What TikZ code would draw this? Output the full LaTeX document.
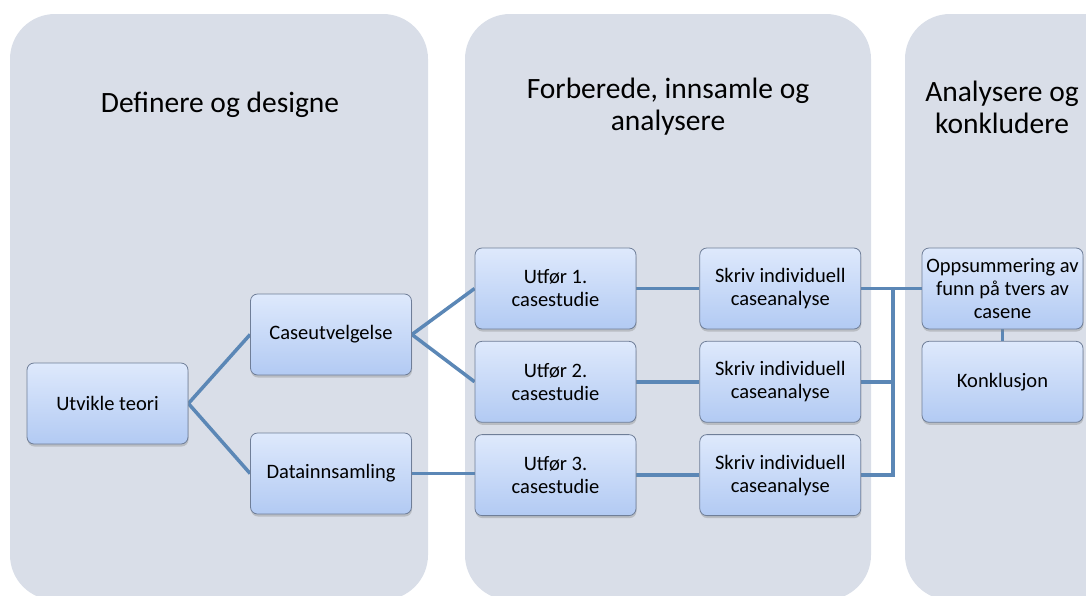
\documentclass[tikz,border=0pt]{standalone}
\usepackage{fontspec}
\setmainfont{Carlito}
\usetikzlibrary{positioning,shadows,backgrounds}
\definecolor{panelfill}{HTML}{D9DEE8}
\definecolor{boxtop}{HTML}{DEE9FC}
\definecolor{boxbot}{HTML}{B2CAF3}
\definecolor{boxline}{HTML}{6F7E98}
\definecolor{linkblue}{HTML}{5B87B6}

\begin{document}
\begin{tikzpicture}[
  x=1pt, y=-1pt,
  panel/.style={fill=panelfill, rounded corners=45pt},
  title/.style={font=\fontsize{29.5}{32}\selectfont, align=center},
  box/.style={draw=boxline, line width=0.8pt, rounded corners=7pt, top color=boxtop, bottom color=boxbot,
    minimum width=161pt, minimum height=81pt, inner sep=2pt, align=center, font=\fontsize{20.5}{23}\selectfont,
    drop shadow={shadow xshift=0.5pt, shadow yshift=-2.5pt, opacity=0.35}},
  wire/.style={draw=linkblue, line width=3.5pt},
]
\useasboundingbox (0,0) rectangle (1086,595);
\begin{scope}[on background layer]
  \clip (0,0) rectangle (1086,595);
  \fill[panel] (10,14) rectangle (428,600);
  \fill[panel] (465,14) rectangle (871,600);
  \fill[panel] (905,14) rectangle (1140,600);
\end{scope}

% phase titles
\node[title] (def) at (220,105) {Definere og designe};
\node[title] (forb) at (668,107) {Forberede, innsamle og\\analysere};
\node[title] (konk) at (1002,107) {Analysere og\\konkludere};

% boxes
\node[box] (teori) at (107.5,403.5) {Utvikle teori};
\node[box] (utvalg) at (331,334.5) {Caseutvelgelse};
\node[box] (data) at (331,473.5) {Datainnsamling};
\node[box] (utf1) at (555.5,288.5) {Utfør 1.\\casestudie};
\node[box, below=11.5pt of utf1] (utf2) {Utfør 2.\\casestudie};
\node[box, below=11.5pt of utf2] (utf3) {Utfør 3.\\casestudie};
\node[box, right=63pt of utf1] (skr1) {Skriv individuell\\caseanalyse};
\node[box, right=63pt of utf2] (skr2) {Skriv individuell\\caseanalyse};
\node[box, right=63pt of utf3] (skr3) {Skriv individuell\\caseanalyse};
\node[box] (opp) at (1002.5,288.5) {Oppsummering av\\funn på tvers av\\casene};
\node[box, below=11.5pt of opp] (konkl) {Konklusjon};
\coordinate[right=32pt of skr1.east] (bus);

\begin{scope}[on background layer]
  \draw[wire] (teori.east) -- (utvalg.west);
  \draw[wire] (teori.east) -- (data.west);
  \draw[wire] (utvalg.east) -- (utf1.west);
  \draw[wire] (utvalg.east) -- (utf2.west);
  \draw[wire] (data.east) -- (data.east -| utf3.west);
  \draw[wire] (utf1) -- (skr1);
  \draw[wire] (utf2) -- (skr2);
  \draw[wire] (utf3) -- (skr3);
  \draw[wire] (skr1.east) -- (opp.west);
  \draw[wire] (skr2.east) -| (bus);
  \draw[wire] (skr3.east) -| (bus);
  \draw[wire] (opp) -- (konkl);
\end{scope}
\end{tikzpicture}
\end{document}
